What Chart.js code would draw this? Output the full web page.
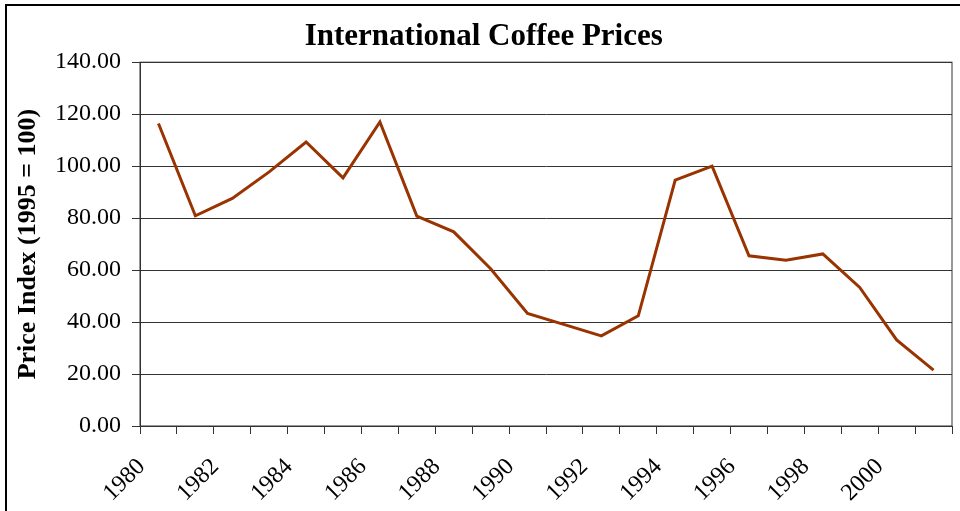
<!DOCTYPE html>
<html>
<head>
<meta charset="utf-8">
<title>International Coffee Prices</title>
<script src="https://cdn.jsdelivr.net/npm/chart.js@4"></script>
<style>
  html, body { margin: 0; padding: 0; background: #fff; overflow: hidden; }
  #wrap { position: relative; width: 960px; height: 511px; }
  #frame {
    position: absolute; left: 5px; top: 4px; width: 1000px; height: 600px;
    border-left: 2px solid #000; border-top: 2px solid #000; pointer-events: none;
  }
</style>
</head>
<body>
<div id="wrap">
  <canvas id="graficoCafe" width="960" height="511"></canvas>
  <div id="frame"></div>
</div>
<script>
// Índice de preços do café (1995 = 100)
const anos = ["1980", "1981", "1982", "1983", "1984", "1985", "1986", "1987", "1988", "1989", "1990",
              "1991", "1992", "1993", "1994", "1995", "1996", "1997", "1998", "1999", "2000", "2001"];
const precos = [116.4, 80.9, 87.6, 97.8, 109.3, 95.5, 117.0, 80.8, 74.7, 60.5, 43.3,
                39.0, 34.7, 42.4, 94.6, 100.0, 65.5, 63.8, 66.2, 53.3, 33.1, 21.5];
const yTicks = [0, 20, 40, 60, 80, 100, 120, 140];

const fonte = "'Liberation Serif', 'Times New Roman', serif";

// moldura da área do gráfico
const bordaArea = {
    id: "bordaArea",
    afterDraw(chart) {
        const a = chart.chartArea;
        const ctx = chart.ctx;
        ctx.save();
        ctx.strokeStyle = "#333";
        ctx.lineWidth = 1;
        ctx.strokeRect(a.left, a.top, a.right - a.left, a.bottom - a.top);
        ctx.restore();
    }
};

const graficoCafe = new Chart(document.getElementById("graficoCafe"), {
    type: "line",
    data: {
        labels: anos,
        datasets: [{
            label: "Price Index",
            data: precos,
            borderColor: "#993300",
            borderWidth: 3,
            pointRadius: 0,
            tension: 0,
            fill: false
        }]
    },
    options: {
        responsive: false,
        devicePixelRatio: 1,
        animation: false,
        layout: { padding: { left: 0, right: 8, top: 0, bottom: 0 } },
        plugins: {
            legend: { display: false },
            tooltip: { enabled: false },
            title: {
                display: true,
                // espaços à esquerda empurram o título um pouco para a direita, como no original
                text: "\u00a0\u00a0International Coffee Prices",
                color: "#000",
                font: { family: fonte, size: 31, weight: "bold" },
                padding: { top: 18, bottom: 7 }
            }
        },
        scales: {
            x: {
                type: "category",
                offset: true,
                grid: {
                    offset: true,
                    drawOnChartArea: false,
                    drawTicks: true,
                    tickLength: 8,
                    color: "#333"
                },
                border: { color: "#333", width: 1 },
                ticks: {
                    autoSkip: false,
                    minRotation: 45,
                    maxRotation: 45,
                    color: "#000",
                    padding: 2,
                    font: { family: fonte, size: 24 },
                    // espaços no fim deslocam o rótulo na diagonal
                    callback: function (v, i) { return i % 2 === 0 ? anos[i] + "\u00a0\u00a0\u00a0\u00a0" : ""; }
                },
                afterFit: function (scale) { scale.height = 85; }
            },
            y: {
                min: 0,
                max: 140,
                afterBuildTicks: function (scale) {
                    scale.ticks = yTicks.map(v => ({ value: v }));
                },
                grid: { color: "#333", lineWidth: 1, tickLength: 8 },
                border: { color: "#333", width: 1 },
                ticks: {
                    color: "#000",
                    padding: 11,
                    font: { family: fonte, size: 24 },
                    callback: function (v) { return Number(v).toFixed(2); }
                },
                title: {
                    display: true,
                    text: "Price Index (1995 = 100)",
                    color: "#000",
                    font: { family: fonte, size: 26, weight: "bold" },
                    padding: { top: 13, bottom: 0 }
                },
                afterFit: function (scale) { scale.width = 140; }
            }
        }
    },
    plugins: [bordaArea]
});
</script>
</body>
</html>
